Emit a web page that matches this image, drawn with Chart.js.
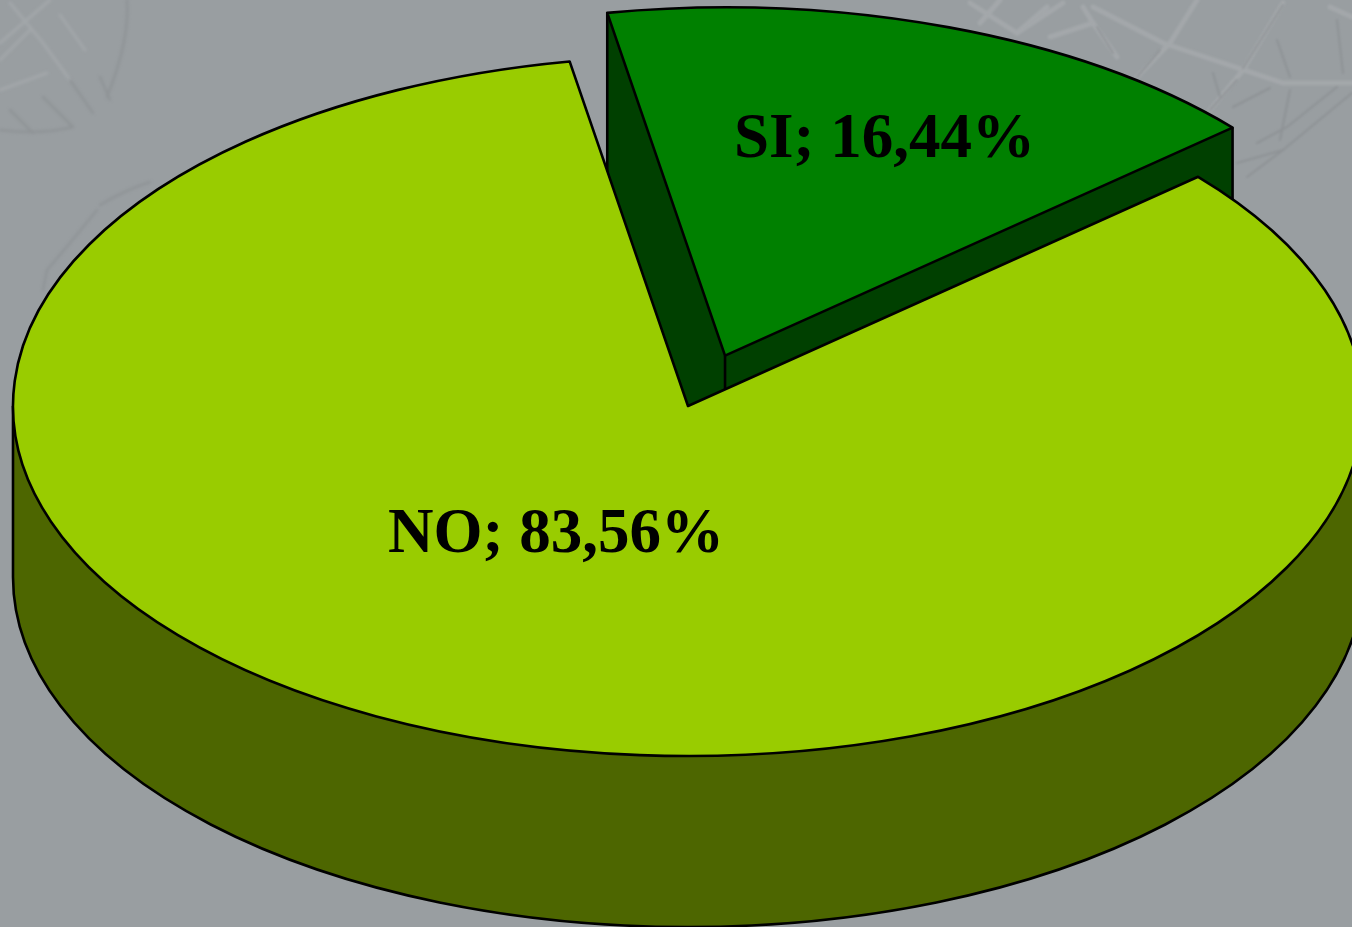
<!DOCTYPE html>
<html>
<head>
<meta charset="utf-8">
<title>SI / NO</title>
<script src="https://cdn.jsdelivr.net/npm/chart.js@4"></script>
<style>
    html, body { margin: 0; padding: 0; background: #999ea1; overflow: hidden; }
    #wrap { position: relative; width: 1352px; height: 927px; }
    #texture, #pie { position: absolute; left: 0; top: 0; }
</style>
</head>
<body>
<div id="wrap">
    <!-- faint web pattern of the slide background -->
    <svg id="texture" width="1352" height="927" fill="none" stroke-linecap="round">
        <defs>
            <filter id="soft"><feGaussianBlur stdDeviation="1"/></filter>
            <filter id="softer"><feGaussianBlur stdDeviation="1.8"/></filter>
        </defs>
        <g filter="url(#soft)" stroke="#a7abae" stroke-width="5" opacity="0.75">
            <path d="M1093 7 L1163 43 L1283 83 L1352 83"/>
            <path d="M1197 0 L1170 43 L1137 77"/>
            <path d="M1283 3 L1243 70 L1210 110"/>
            <path d="M970 3 L1017 33 L1063 3"/>
            <path d="M1000 0 L980 23 M1017 33 L1047 7"/>
            <path d="M1050 37 L1093 23 L1117 57 M1093 23 L1083 7"/>
            <path d="M1330 7 L1352 17"/>
        </g>
        <g filter="url(#soft)" stroke="#888c8f" stroke-width="2" opacity="0.65">
            <path d="M1277 40 L1290 77 M1290 90 L1280 140"/>
            <path d="M1337 87 L1287 127 L1257 143"/>
            <path d="M1352 93 L1283 150 L1247 177"/>
            <path d="M1237 80 L1210 110 M1213 73 L1220 97"/>
            <path d="M1233 107 L1270 88 M1237 163 L1283 150"/>
            <path d="M1337 20 L1343 73 M1283 5 L1243 68"/>
            <path d="M1097 27 L1113 53 M1160 50 L1137 77"/>
        </g>
        <g filter="url(#softer)" stroke="#a9adb0" stroke-width="3" opacity="0.6">
            <path d="M10 3 L43 43 L70 80"/>
            <path d="M50 0 L0 43"/>
            <path d="M0 90 L47 73"/>
            <path d="M0 60 L30 30 M60 15 L85 50"/>
        </g>
        <g filter="url(#softer)" stroke="#85898c" stroke-width="2.5" opacity="0.5">
            <path d="M127 0 Q130 40 107 97"/>
            <path d="M0 130 Q40 135 73 127"/>
            <path d="M10 110 L33 133 M43 97 L73 127 M70 80 L93 113 M100 77 L110 100"/>
            <path d="M43 290 L47 270 L70 243 L97 210"/>
            <path d="M100 205 Q125 190 150 182"/>
        </g>
    </svg>
    <canvas id="pie" width="1352" height="927"></canvas>
</div>
<script>
// pie values
const categories = ["SI", "NO"];
const percent_values = [16.44, 83.56];
const top_colors = ["#008000", "#99cc00"];
const wall_colors = ["#004000", "#4d6600"];

// flattening of the 3D view
const tilt = 0.5185;
const wall_depth = 171;
const screen_center_y = 406;
const slice_nudge = [[2, 1], [0, 0]];
const slice_scale = [0.995, 1];
const label_centers = [[884.5, 141], [556, 536]];

// where the apex of a slice ends up, still in untilted units
function sliceApex(arc, i) {
    const mid = (arc.startAngle + arc.endAngle) / 2;
    const off = arc.options.offset || 0;
    return {
        x: arc.x + Math.cos(mid) * off + slice_nudge[i][0],
        y: Math.sin(mid) * off + slice_nudge[i][1] / tilt
    };
}

// Only the path goes through the tilted transform so the stroke stays even
function traceArc(ctx, arc, i, dy, from, to, reverse) {
    const apex = sliceApex(arc, i);
    ctx.save();
    ctx.translate(apex.x, screen_center_y + dy);
    ctx.scale(1, tilt);
    ctx.translate(0, apex.y);
    ctx.arc(0, 0, arc.outerRadius * slice_scale[i], from, to, reverse);
    ctx.restore();
}

function slicePoint(arc, i, angle, radius) {
    const apex = sliceApex(arc, i);
    return {
        x: apex.x + Math.cos(angle) * radius,
        y: screen_center_y + (apex.y + Math.sin(angle) * radius) * tilt
    };
}

function wallQuad(ctx, a, b) {
    ctx.beginPath();
    ctx.moveTo(a.x, a.y);
    ctx.lineTo(b.x, b.y);
    ctx.lineTo(b.x, b.y + wall_depth);
    ctx.lineTo(a.x, a.y + wall_depth);
    ctx.closePath();
    ctx.fill();
}

function wallEdge(ctx, p) {
    ctx.beginPath();
    ctx.moveTo(p.x, p.y);
    ctx.lineTo(p.x, p.y + wall_depth);
    ctx.stroke();
}

function drawSlice(ctx, arc, i) {
    const r = arc.outerRadius * slice_scale[i];
    const apex = slicePoint(arc, i, 0, 0);
    const first = slicePoint(arc, i, arc.startAngle, r);
    const last = slicePoint(arc, i, arc.endAngle, r);

    // radial walls, the NO ones end up under its own top
    ctx.fillStyle = wall_colors[i];
    wallQuad(ctx, apex, first);
    wallQuad(ctx, apex, last);
    wallEdge(ctx, first);
    wallEdge(ctx, last);
    wallEdge(ctx, apex);

    // round wall, only the half that faces the viewer
    const from = Math.max(arc.startAngle, 0);
    const to = Math.min(arc.endAngle, Math.PI);
    if (from < to) {
        ctx.beginPath();
        traceArc(ctx, arc, i, 0, from, to, false);
        traceArc(ctx, arc, i, wall_depth, to, from, true);
        ctx.closePath();
        ctx.fill();
        ctx.beginPath();
        traceArc(ctx, arc, i, wall_depth, from, to, false);
        ctx.stroke();
        wallEdge(ctx, slicePoint(arc, i, to, r));
        wallEdge(ctx, slicePoint(arc, i, from, r));
    }

    // top of the slice
    ctx.beginPath();
    ctx.moveTo(apex.x, apex.y);
    traceArc(ctx, arc, i, 0, arc.startAngle, arc.endAngle, false);
    ctx.closePath();
    ctx.fillStyle = top_colors[i];
    ctx.fill();
    ctx.stroke();
}

const pie3d = {
    id: "pie3d",
    beforeDatasetDraw(chart, args) {
        const ctx = chart.ctx;
        ctx.save();
        ctx.lineWidth = 2.6;
        ctx.strokeStyle = "#000000";
        ctx.lineJoin = "round";
        args.meta.data.forEach(function (arc, i) {
            drawSlice(ctx, arc, i);
        });
        ctx.restore();
        return false; // slices are drawn above, skip the flat ones
    },
    afterDraw(chart) {
        const ctx = chart.ctx;
        ctx.save();
        ctx.fillStyle = "#000000";
        ctx.font = "bold 63px 'Liberation Serif'";
        ctx.textAlign = "center";
        ctx.textBaseline = "middle";
        categories.forEach(function (name, i) {
            const text = name + "; " + percent_values[i].toFixed(2).replace(".", ",") + "%";
            ctx.fillText(text, label_centers[i][0], label_centers[i][1]);
        });
        ctx.restore();
    }
};

let ctx = document.getElementById("pie").getContext("2d");
const myPie = new Chart(ctx, {
    type: "pie",
    data: {
        labels: categories,
        datasets: [{
            data: percent_values,
            backgroundColor: top_colors,
            borderWidth: 0,
            offset: [105, 0]
        }]
    },
    options: {
        responsive: false,
        animation: false,
        rotation: -10.1,
        radius: 675,
        layout: { padding: { left: 24 } },
        plugins: {
            legend: { display: false },
            tooltip: { enabled: false }
        }
    },
    plugins: [pie3d]
});
</script>
</body>
</html>
